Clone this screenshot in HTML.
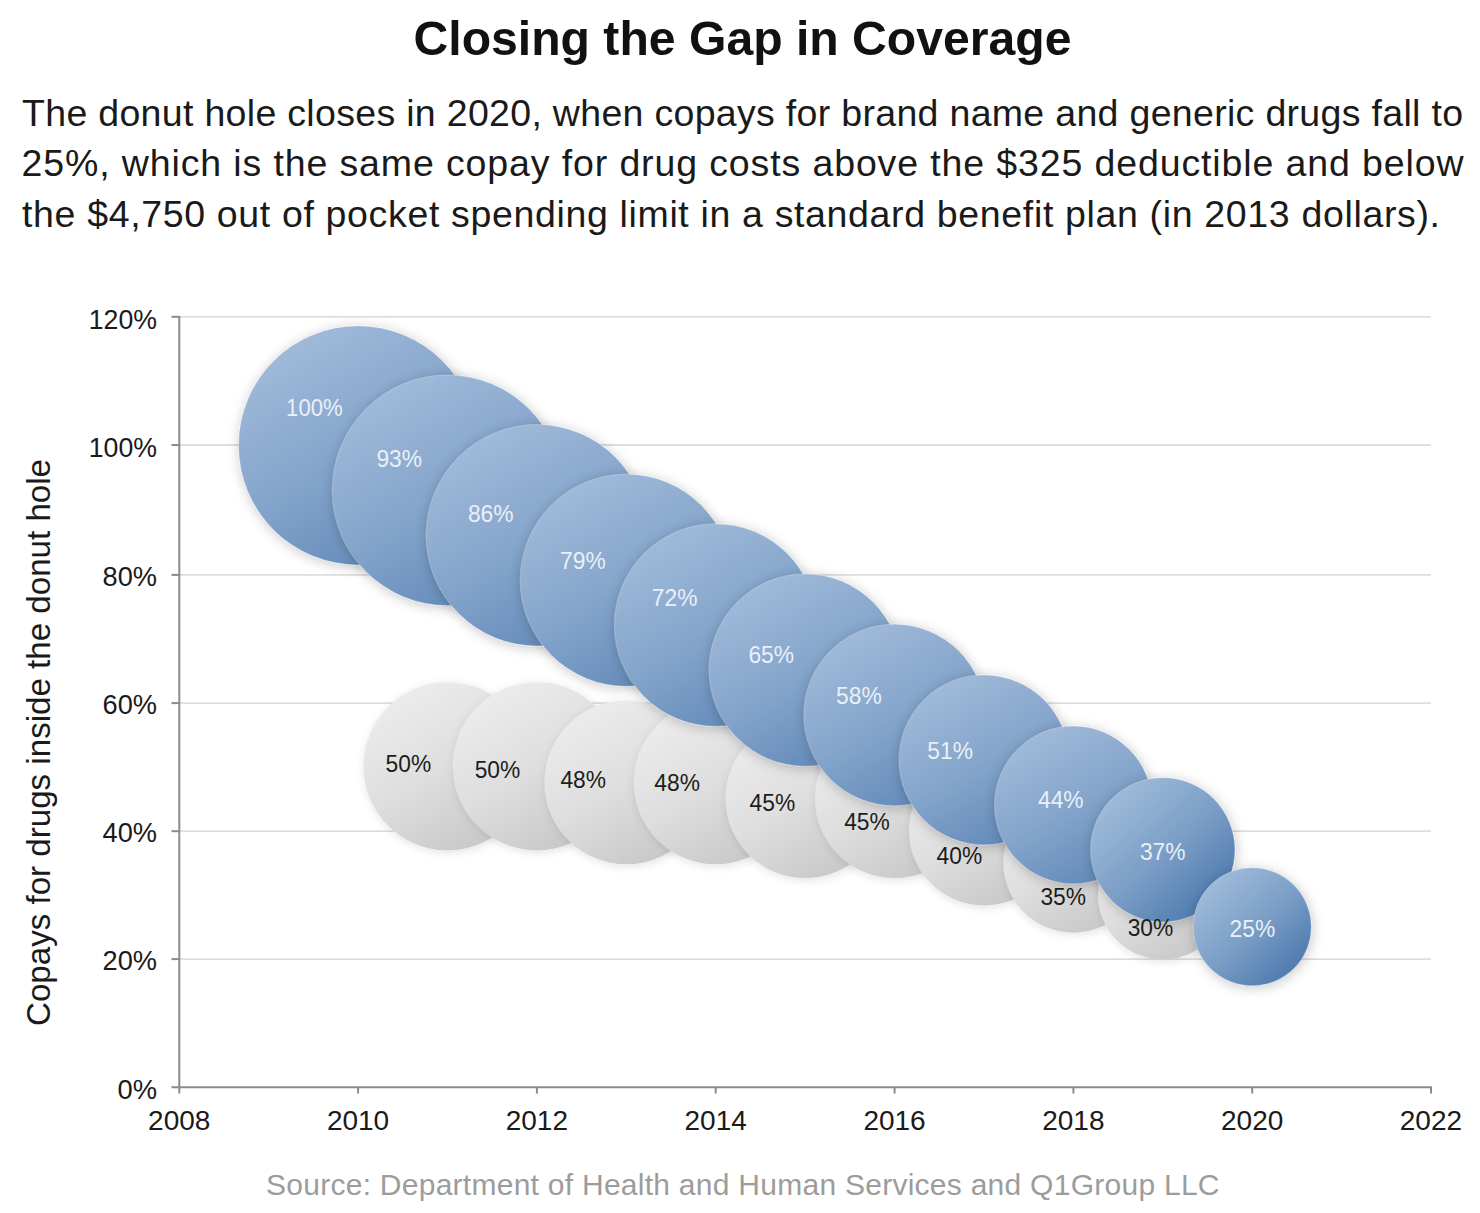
<!DOCTYPE html>
<html><head><meta charset="utf-8"><title>Closing the Gap in Coverage</title>
<style>
html,body{margin:0;padding:0;background:#fff;}
body{width:1480px;height:1213px;overflow:hidden;font-family:"Liberation Sans",sans-serif;}
svg{display:block;font-family:"Liberation Sans",sans-serif;}
</style></head><body>
<svg width="1480" height="1213" viewBox="0 0 1480 1213">
<defs>
<linearGradient id="gb" x1="0.24" y1="0.05" x2="0.76" y2="0.95">
<stop offset="0" stop-color="#a0bad9"/><stop offset="0.5" stop-color="#85a5cb"/><stop offset="1" stop-color="#6189b9"/>
</linearGradient>
<linearGradient id="gb2" x1="0.14" y1="0.12" x2="0.86" y2="0.9">
<stop offset="0" stop-color="#a0bbd9"/><stop offset="0.5" stop-color="#7c9fc7"/><stop offset="1" stop-color="#4c79ad"/>
</linearGradient>
<linearGradient id="gg" x1="0.24" y1="0.05" x2="0.76" y2="0.95">
<stop offset="0" stop-color="#ececec"/><stop offset="0.5" stop-color="#dedede"/><stop offset="1" stop-color="#c8c8c8"/>
</linearGradient>
<filter id="sh" x="-20%" y="-20%" width="140%" height="140%">
<feGaussianBlur in="SourceAlpha" stdDeviation="6.5" result="b"/>
<feOffset in="b" dx="1" dy="1.5" result="o"/>
<feComponentTransfer in="o" result="s"><feFuncA type="linear" slope="0.23"/></feComponentTransfer>
<feMerge><feMergeNode in="s"/><feMergeNode in="SourceGraphic"/></feMerge>
</filter>
<filter id="sg" x="-20%" y="-20%" width="140%" height="140%">
<feGaussianBlur in="SourceAlpha" stdDeviation="5" result="b"/>
<feOffset in="b" dx="1" dy="2" result="o"/>
<feComponentTransfer in="o" result="s"><feFuncA type="linear" slope="0.12"/></feComponentTransfer>
<feMerge><feMergeNode in="s"/><feMergeNode in="SourceGraphic"/></feMerge>
</filter>
</defs>
<rect width="1480" height="1213" fill="#fff"/>

<text x="413.5" y="54.6" font-size="48.5" font-weight="bold" fill="#111" textLength="658" lengthAdjust="spacingAndGlyphs">Closing the Gap in Coverage</text>
<text x="22" y="125.6" font-size="37.5" fill="#1a1a1a" textLength="1441" lengthAdjust="spacing">The donut hole closes in 2020, when copays for brand name and generic drugs fall to</text>
<text x="21.5" y="176" font-size="37.5" fill="#1a1a1a" textLength="1442.0" lengthAdjust="spacing">25%, which is the same copay for drug costs above the $325 deductible and below</text>
<text x="22" y="227.2" font-size="37.5" fill="#1a1a1a" textLength="1418" lengthAdjust="spacing">the $4,750 out of pocket spending limit in a standard benefit plan (in 2013 dollars).</text>
<line x1="179.3" x2="1431" y1="959.1" y2="959.1" stroke="#dedede" stroke-width="1.8"/>
<line x1="179.3" x2="1431" y1="831.2" y2="831.2" stroke="#dedede" stroke-width="1.8"/>
<line x1="179.3" x2="1431" y1="703.1" y2="703.1" stroke="#dedede" stroke-width="1.8"/>
<line x1="179.3" x2="1431" y1="574.9" y2="574.9" stroke="#dedede" stroke-width="1.8"/>
<line x1="179.3" x2="1431" y1="445.0" y2="445.0" stroke="#dedede" stroke-width="1.8"/>
<line x1="179.3" x2="1431" y1="316.8" y2="316.8" stroke="#dedede" stroke-width="1.8"/>
<g>
<circle cx="447.5" cy="766.3" r="84.1" fill="url(#gg)" filter="url(#sg)"/>
<circle cx="536.9" cy="766.3" r="84.1" fill="url(#gg)" filter="url(#sg)"/>
<circle cx="626.3" cy="782.4" r="81.9" fill="url(#gg)" filter="url(#sg)"/>
<circle cx="715.7" cy="782.4" r="81.9" fill="url(#gg)" filter="url(#sg)"/>
<circle cx="805.2" cy="798.4" r="79.7" fill="url(#gg)" filter="url(#sg)"/>
<circle cx="894.6" cy="798.4" r="79.7" fill="url(#gg)" filter="url(#sg)"/>
<circle cx="984.0" cy="830.5" r="75.0" fill="url(#gg)" filter="url(#sg)"/>
<circle cx="1073.4" cy="862.6" r="70.1" fill="url(#gg)" filter="url(#sg)"/>
<circle cx="1162.8" cy="894.7" r="64.8" fill="url(#gg)" filter="url(#sg)"/>
</g><g>
<circle cx="358.1" cy="445.4" r="119.5" fill="url(#gb)" stroke="#fff" stroke-opacity="0.22" stroke-width="1" filter="url(#sh)"/>
<circle cx="447.5" cy="490.3" r="115.2" fill="url(#gb)" stroke="#fff" stroke-opacity="0.22" stroke-width="1" filter="url(#sh)"/>
<circle cx="536.9" cy="535.3" r="110.7" fill="url(#gb)" stroke="#fff" stroke-opacity="0.22" stroke-width="1" filter="url(#sh)"/>
<circle cx="626.3" cy="580.2" r="106.0" fill="url(#gb)" stroke="#fff" stroke-opacity="0.22" stroke-width="1" filter="url(#sh)"/>
<circle cx="715.7" cy="625.1" r="101.2" fill="url(#gb)" stroke="#fff" stroke-opacity="0.22" stroke-width="1" filter="url(#sh)"/>
<circle cx="805.2" cy="670.1" r="96.1" fill="url(#gb)" stroke="#fff" stroke-opacity="0.22" stroke-width="1" filter="url(#sh)"/>
<circle cx="894.6" cy="715.0" r="90.7" fill="url(#gb)" stroke="#fff" stroke-opacity="0.22" stroke-width="1" filter="url(#sh)"/>
<circle cx="984.0" cy="759.9" r="84.9" fill="url(#gb)" stroke="#fff" stroke-opacity="0.22" stroke-width="1" filter="url(#sh)"/>
<circle cx="1073.4" cy="804.9" r="78.8" fill="url(#gb)" stroke="#fff" stroke-opacity="0.22" stroke-width="1" filter="url(#sh)"/>
<circle cx="1162.8" cy="849.8" r="72.1" fill="url(#gb2)" stroke="#fff" stroke-opacity="0.22" stroke-width="1" filter="url(#sh)"/>
<circle cx="1252.2" cy="926.8" r="59.0" fill="url(#gb2)" stroke="#fff" stroke-opacity="0.22" stroke-width="1" filter="url(#sh)"/>
</g>
<text x="385.6" y="772" font-size="24" fill="#1c1c1c" textLength="45.6" lengthAdjust="spacingAndGlyphs">50%</text>
<text x="474.7" y="778" font-size="24" fill="#1c1c1c" textLength="45.6" lengthAdjust="spacingAndGlyphs">50%</text>
<text x="560.4" y="788.3" font-size="24" fill="#1c1c1c" textLength="45.6" lengthAdjust="spacingAndGlyphs">48%</text>
<text x="654.3" y="790.5" font-size="24" fill="#1c1c1c" textLength="45.6" lengthAdjust="spacingAndGlyphs">48%</text>
<text x="749.6" y="810.5" font-size="24" fill="#1c1c1c" textLength="45.6" lengthAdjust="spacingAndGlyphs">45%</text>
<text x="844.2" y="829.6" font-size="24" fill="#1c1c1c" textLength="45.6" lengthAdjust="spacingAndGlyphs">45%</text>
<text x="936.6" y="864.2" font-size="24" fill="#1c1c1c" textLength="45.6" lengthAdjust="spacingAndGlyphs">40%</text>
<text x="1040.4" y="904.5" font-size="24" fill="#1c1c1c" textLength="45.6" lengthAdjust="spacingAndGlyphs">35%</text>
<text x="1127.7" y="935.8" font-size="24" fill="#1c1c1c" textLength="45.6" lengthAdjust="spacingAndGlyphs">30%</text>
<text x="286.1" y="415.7" font-size="24" fill="#e9f0f8" textLength="56.6" lengthAdjust="spacingAndGlyphs">100%</text>
<text x="376.4" y="466.8" font-size="24" fill="#e9f0f8" textLength="45.6" lengthAdjust="spacingAndGlyphs">93%</text>
<text x="467.9" y="522.4" font-size="24" fill="#e9f0f8" textLength="45.6" lengthAdjust="spacingAndGlyphs">86%</text>
<text x="560.1" y="569" font-size="24" fill="#e9f0f8" textLength="45.6" lengthAdjust="spacingAndGlyphs">79%</text>
<text x="651.8" y="606" font-size="24" fill="#e9f0f8" textLength="45.6" lengthAdjust="spacingAndGlyphs">72%</text>
<text x="748.4" y="663" font-size="24" fill="#e9f0f8" textLength="45.6" lengthAdjust="spacingAndGlyphs">65%</text>
<text x="836.1" y="704" font-size="24" fill="#e9f0f8" textLength="45.6" lengthAdjust="spacingAndGlyphs">58%</text>
<text x="927.3" y="759" font-size="24" fill="#e9f0f8" textLength="45.6" lengthAdjust="spacingAndGlyphs">51%</text>
<text x="1038.0" y="808.4" font-size="24" fill="#e9f0f8" textLength="45.6" lengthAdjust="spacingAndGlyphs">44%</text>
<text x="1139.9" y="859.5" font-size="24" fill="#e9f0f8" textLength="45.6" lengthAdjust="spacingAndGlyphs">37%</text>
<text x="1229.6" y="937" font-size="24" fill="#e9f0f8" textLength="45.6" lengthAdjust="spacingAndGlyphs">25%</text>
<path d="M179.3 316 V1093.5 M171.5 1087.3 H1432" stroke="#8b8b8b" stroke-width="2" fill="none"/>
<line x1="171.5" x2="179.3" y1="959.1" y2="959.1" stroke="#8b8b8b" stroke-width="2"/>
<line x1="171.5" x2="179.3" y1="831.2" y2="831.2" stroke="#8b8b8b" stroke-width="2"/>
<line x1="171.5" x2="179.3" y1="703.1" y2="703.1" stroke="#8b8b8b" stroke-width="2"/>
<line x1="171.5" x2="179.3" y1="574.9" y2="574.9" stroke="#8b8b8b" stroke-width="2"/>
<line x1="171.5" x2="179.3" y1="445.0" y2="445.0" stroke="#8b8b8b" stroke-width="2"/>
<line x1="171.5" x2="179.3" y1="316.8" y2="316.8" stroke="#8b8b8b" stroke-width="2"/>
<line x1="358.1" x2="358.1" y1="1087.3" y2="1093.5" stroke="#8b8b8b" stroke-width="2"/>
<line x1="536.9" x2="536.9" y1="1087.3" y2="1093.5" stroke="#8b8b8b" stroke-width="2"/>
<line x1="715.7" x2="715.7" y1="1087.3" y2="1093.5" stroke="#8b8b8b" stroke-width="2"/>
<line x1="894.6" x2="894.6" y1="1087.3" y2="1093.5" stroke="#8b8b8b" stroke-width="2"/>
<line x1="1073.4" x2="1073.4" y1="1087.3" y2="1093.5" stroke="#8b8b8b" stroke-width="2"/>
<line x1="1252.2" x2="1252.2" y1="1087.3" y2="1093.5" stroke="#8b8b8b" stroke-width="2"/>
<line x1="1431.0" x2="1431.0" y1="1087.3" y2="1093.5" stroke="#8b8b8b" stroke-width="2"/>
<text x="117.5" y="1098.6" font-size="28.5" fill="#1a1a1a" textLength="39.5" lengthAdjust="spacingAndGlyphs">0%</text>
<text x="102.5" y="970.4" font-size="28.5" fill="#1a1a1a" textLength="54.5" lengthAdjust="spacingAndGlyphs">20%</text>
<text x="102.5" y="842.1" font-size="28.5" fill="#1a1a1a" textLength="54.5" lengthAdjust="spacingAndGlyphs">40%</text>
<text x="102.5" y="713.9" font-size="28.5" fill="#1a1a1a" textLength="54.5" lengthAdjust="spacingAndGlyphs">60%</text>
<text x="102.5" y="585.7" font-size="28.5" fill="#1a1a1a" textLength="54.5" lengthAdjust="spacingAndGlyphs">80%</text>
<text x="88.7" y="457.4" font-size="28.5" fill="#1a1a1a" textLength="68.3" lengthAdjust="spacingAndGlyphs">100%</text>
<text x="88.7" y="329.2" font-size="28.5" fill="#1a1a1a" textLength="68.3" lengthAdjust="spacingAndGlyphs">120%</text>
<text x="148.1" y="1130.2" font-size="28" fill="#1a1a1a" textLength="62.3" lengthAdjust="spacingAndGlyphs">2008</text>
<text x="326.9" y="1130.2" font-size="28" fill="#1a1a1a" textLength="62.3" lengthAdjust="spacingAndGlyphs">2010</text>
<text x="505.7" y="1130.2" font-size="28" fill="#1a1a1a" textLength="62.3" lengthAdjust="spacingAndGlyphs">2012</text>
<text x="684.5" y="1130.2" font-size="28" fill="#1a1a1a" textLength="62.3" lengthAdjust="spacingAndGlyphs">2014</text>
<text x="863.4" y="1130.2" font-size="28" fill="#1a1a1a" textLength="62.3" lengthAdjust="spacingAndGlyphs">2016</text>
<text x="1042.2" y="1130.2" font-size="28" fill="#1a1a1a" textLength="62.3" lengthAdjust="spacingAndGlyphs">2018</text>
<text x="1221.0" y="1130.2" font-size="28" fill="#1a1a1a" textLength="62.3" lengthAdjust="spacingAndGlyphs">2020</text>
<text x="1399.8" y="1130.2" font-size="28" fill="#1a1a1a" textLength="62.3" lengthAdjust="spacingAndGlyphs">2022</text>
<text transform="translate(49.8,1026) rotate(-90)" font-size="33.5" fill="#1a1a1a" textLength="567" lengthAdjust="spacingAndGlyphs">Copays for drugs inside the donut hole</text>
<text x="266" y="1194.6" font-size="30" fill="#9c9c9c" textLength="953.5" lengthAdjust="spacing">Source: Department of Health and Human Services and Q1Group LLC</text>
</svg></body></html>
